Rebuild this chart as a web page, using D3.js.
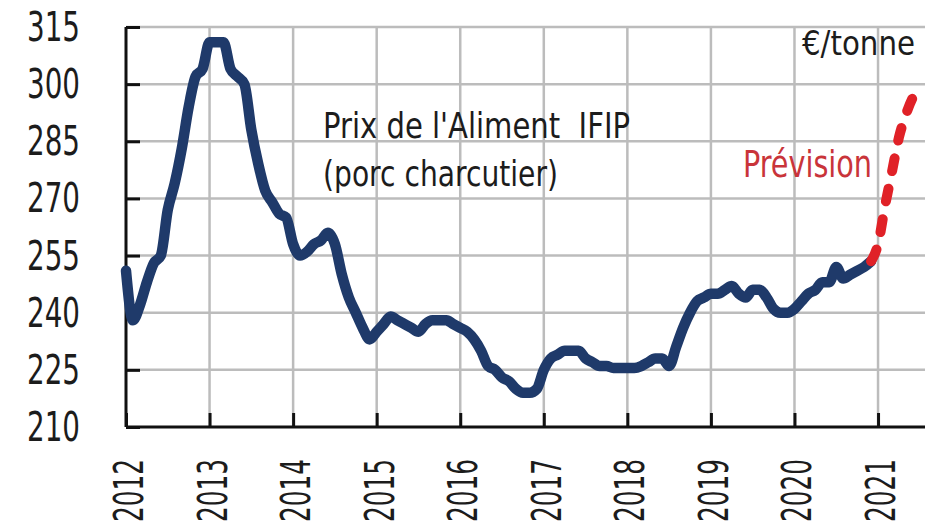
<!DOCTYPE html>
<html>
<head>
<meta charset="utf-8">
<script src="https://cdn.jsdelivr.net/npm/d3@7"></script>
<style>
  body { margin: 0; background: #fff; }
  text { font-family: "Liberation Sans Narrow", "DejaVu Sans Condensed", sans-serif; fill: #1c1c1c; }
</style>
</head>
<body>
<div id="chart"></div>
<script>
// prix mensuel, janvier 2012 -> décembre 2020 (€/tonne)
var prixAliment = [
  251, 238, 242, 248, 253, 255, 267, 274, 283, 294, 302, 304,
  311, 311, 311, 304, 302, 300, 288, 279, 272, 269, 266, 265,
  258, 255, 256, 258, 259, 261, 258, 250, 244, 240, 236, 233,
  235, 237, 239, 238, 237, 236, 235, 237, 238, 238, 238, 237,
  236, 235, 233, 230, 226, 225, 223, 222, 220, 219, 219, 220,
  225, 228, 229, 230, 230, 230, 228, 227, 226, 226, 225.5, 225.5,
  225.5, 225.5, 226, 227, 228, 228, 226, 231, 236, 240, 243, 244,
  245, 245, 246, 247, 245, 244, 246, 246, 244, 241, 240, 240,
  241, 243, 245, 246, 248, 248, 252, 249, 250, 251, 252, 253.5
];
// prévision, à partir de décembre 2020
var prevision = [253.5, 258, 268, 277, 286, 292, 296.5, 299];
var debutPrix = 2012, debutPrevision = 2012 + 107 / 12;

var yTicks = [210, 225, 240, 255, 270, 285, 300, 315];
var xTicks = [2012, 2013, 2014, 2015, 2016, 2017, 2018, 2019, 2020, 2021];

var width = 933, height = 527;
var mLeft = 126, mRight = 925, mTop = 27, mBottom = 427;

var svg = d3.select("#chart").append("svg")
  .attr("width", width)
  .attr("height", height);

var x = d3.scaleLinear().domain([2012, 2012 + (mRight - mLeft) / 83.56]).range([mLeft, mRight]);
var y = d3.scaleLinear().domain([210, 315]).range([mBottom, mTop]);

// grille
svg.append("g").selectAll("line").data(yTicks.slice(1)).join("line")
  .attr("x1", mLeft).attr("x2", mRight)
  .attr("y1", d => y(d)).attr("y2", d => y(d))
  .attr("stroke", "#bcbcbc").attr("stroke-width", 2.5);
svg.append("g").selectAll("line").data(xTicks.slice(1)).join("line")
  .attr("x1", d => x(d)).attr("x2", d => x(d))
  .attr("y1", mTop).attr("y2", mBottom)
  .attr("stroke", "#bcbcbc").attr("stroke-width", 2.5);

// axes
var yAxis = svg.append("g").attr("transform", "translate(" + mLeft + ",0)")
  .call(d3.axisRight(y).tickValues(yTicks).tickSize(14).tickFormat(""));
var xAxis = svg.append("g").attr("transform", "translate(0," + mBottom + ")")
  .call(d3.axisTop(x).tickValues(xTicks).tickSize(14).tickFormat(""));
[yAxis, xAxis].forEach(function (a) {
  a.select(".domain").attr("stroke", "#111").attr("stroke-width", 3);
  a.selectAll(".tick line").attr("stroke", "#111").attr("stroke-width", 3);
});
xAxis.select(".domain").attr("d", "M" + mLeft + ",0H" + mRight);
yAxis.select(".domain").attr("d", "M0," + y(315) + "V" + y(210));

svg.append("g").selectAll("text").data(yTicks).join("text")
  .attr("x", 80).attr("y", d => y(d))
  .attr("text-anchor", "end")
  .attr("dominant-baseline", "central")
  .attr("textLength", 53)
  .attr("lengthAdjust", "spacingAndGlyphs")
  .style("font-size", "40px")
  .text(d => d);

svg.append("g").selectAll("text").data(xTicks).join("text")
  .attr("transform", d => "translate(" + (x(d) + 3) + ",459) rotate(-90)")
  .attr("text-anchor", "end")
  .attr("dominant-baseline", "central")
  .attr("textLength", 63)
  .attr("lengthAdjust", "spacingAndGlyphs")
  .style("font-size", "40px")
  .text(d => d);

// courbes
var line = d3.line()
  .x(d => x(d[0]))
  .y(d => y(d[1]))
  .curve(d3.curveMonotoneX);

svg.append("path")
  .datum(prixAliment.map((v, i) => [debutPrix + i / 12, v]))
  .attr("d", line)
  .attr("fill", "none")
  .attr("stroke", "#1f3a6a")
  .attr("stroke-width", 10.5)
  .attr("stroke-linejoin", "round")
  .attr("stroke-linecap", "round");

svg.append("path")
  .datum(prevision.map((v, i) => [debutPrevision + i / 12, v]))
  .attr("d", line)
  .attr("fill", "none")
  .attr("stroke", "#e02127")
  .attr("stroke-width", 10)
  .attr("stroke-linecap", "round")
  .attr("stroke-dasharray", "13,18");

// textes
svg.append("text").attr("x", 915).attr("y", 55)
  .attr("text-anchor", "end").attr("textLength", 113).attr("lengthAdjust", "spacingAndGlyphs")
  .style("font-size", "33px").text("€/tonne");
svg.append("text").attr("x", 323).attr("y", 138)
  .attr("textLength", 307).attr("lengthAdjust", "spacingAndGlyphs")
  .style("font-size", "36px").text("Prix de l'Aliment\u00a0 IFIP");
svg.append("text").attr("x", 323).attr("y", 186)
  .attr("textLength", 235).attr("lengthAdjust", "spacingAndGlyphs")
  .style("font-size", "36px").text("(porc charcutier)");
svg.append("text").attr("x", 872).attr("y", 177)
  .attr("text-anchor", "end").attr("textLength", 129).attr("lengthAdjust", "spacingAndGlyphs")
  .style("font-size", "38px")
  .style("fill", "#c9343a").text("Prévision");
</script>
</body>
</html>
